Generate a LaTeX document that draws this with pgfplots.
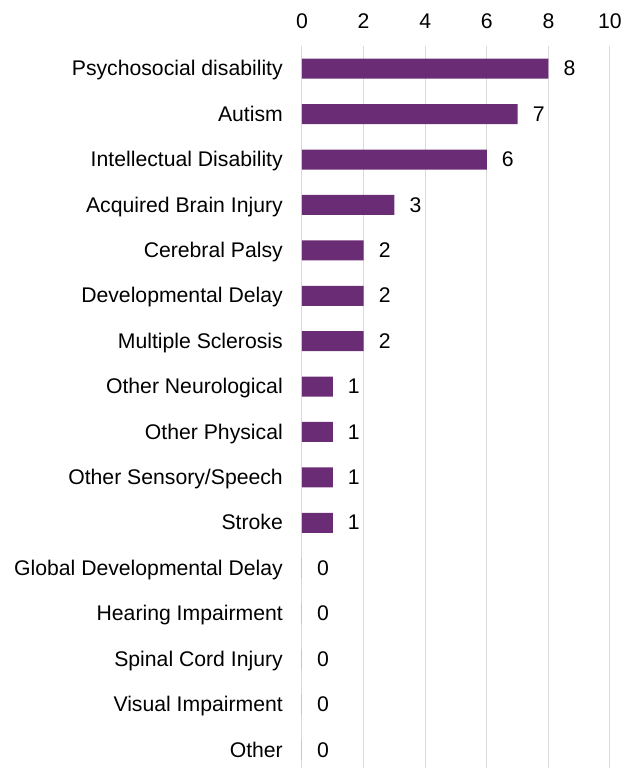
\documentclass[border=0pt]{standalone}
\usepackage{pgfplots}
\pgfplotsset{compat=1.18}
\usepackage{fontspec}
\setmainfont{Liberation Sans}
\definecolor{barpurple}{RGB}{107,44,118}
\definecolor{gridgray}{RGB}{217,217,217}
\begin{document}
\begin{tikzpicture}
\begin{axis}[
  at={(0,0)}, anchor=south west,
  scale only axis,
  width=308bp, height=722bp,
  xbar, bar width=20bp,
  xmin=0, xmax=10,
  ymin=-0.5, ymax=15.4,
  y dir=reverse,
  axis line style={draw=none},
  xticklabel pos=upper,
  xtick={0,2,4,6,8,10},
  ytick={0,...,15},
  yticklabels={Psychosocial disability,Autism,Intellectual Disability,Acquired Brain Injury,Cerebral Palsy,Developmental Delay,Multiple Sclerosis,Other Neurological,Other Physical,Other Sensory/Speech,Stroke,Global Developmental Delay,Hearing Impairment,Spinal Cord Injury,Visual Impairment,Other},
  major tick length=0pt,
  xmajorgrids=true,
  grid style={gridgray, line width=1bp},
  /pgf/number format/assume math mode=true,
  tick label style={font=\fontsize{21.2bp}{25bp}\selectfont, text=black},
  y tick label style={inner sep=0pt, anchor=base east, xshift=-19bp, yshift=-7.2bp},
  x tick label style={inner sep=0pt, anchor=south, yshift=17bp},
  nodes near coords,
  nodes near coords style={font=\fontsize{21.2bp}{25bp}\selectfont, anchor=base west, inner sep=0pt, xshift=15bp, yshift=-7.2bp, text=black},
]
\addplot[fill=barpurple, draw=none] coordinates {
(8,0) (7,1) (6,2) (3,3) (2,4) (2,5) (2,6) (1,7) (1,8) (1,9) (1,10) (0,11) (0,12) (0,13) (0,14) (0,15)
};
\end{axis}
\pgfresetboundingbox
\path[use as bounding box] (-302bp,0) rectangle (319bp,768bp);
\end{tikzpicture}
\end{document}
